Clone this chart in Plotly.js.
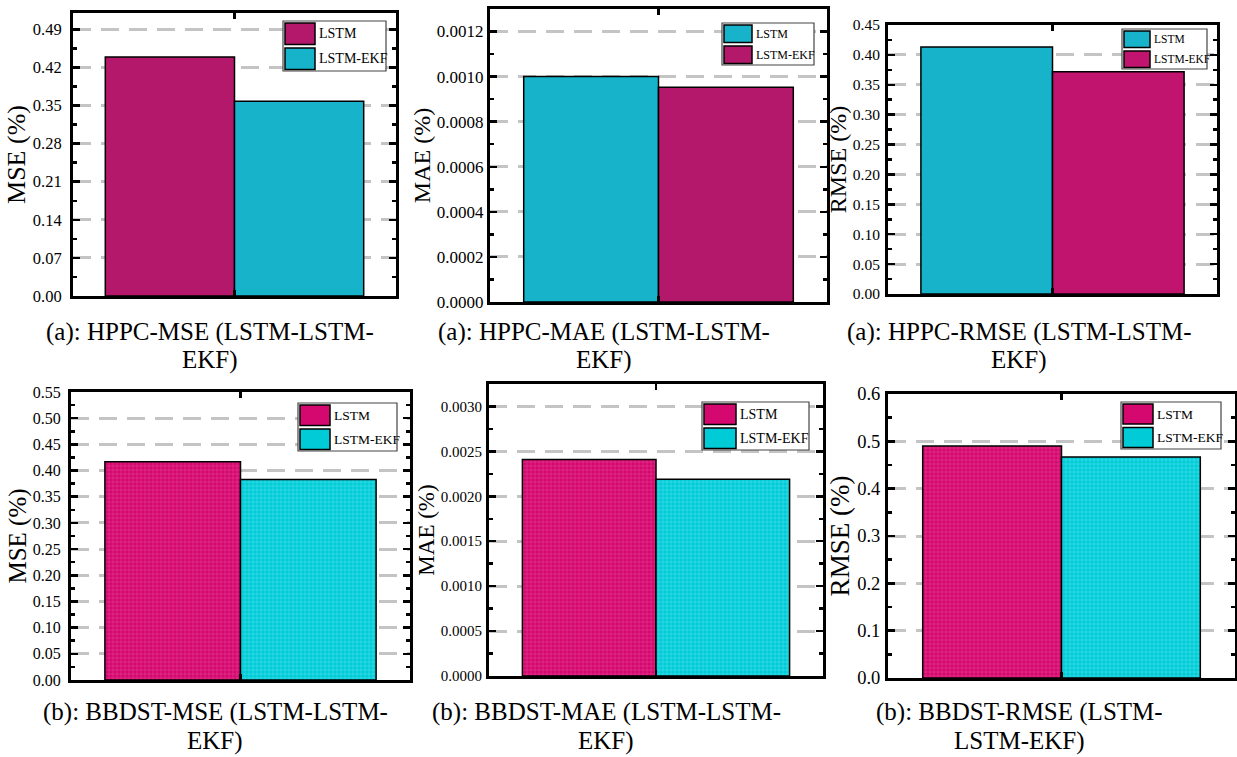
<!DOCTYPE html>
<html>
<head>
<meta charset="utf-8">
<script src="https://cdn.plot.ly/plotly-3.0.1.min.js"></script>
<style>html,body{margin:0;padding:0;background:#fff;}#chart{width:1237px;height:757px;}</style>
</head>
<body>
<div id="chart"></div>
<script>
// ---- data ----
const categories = ['LSTM', 'LSTM-EKF'];
const hppcMSE   = [0.439, 0.358];
const hppcMAE   = [0.00100, 0.000953];
const hppcRMSE  = [0.413, 0.372];
const bbdstMSE  = [0.417, 0.383];
const bbdstMAE  = [0.00241, 0.00219];
const bbdstRMSE = [0.490, 0.467];
const yTitles = ['MSE (%)', 'MAE (%)', 'RMSE (%)', 'MSE (%)', 'MAE (%)', 'RMSE (%)'];
const captionLine1 = ['(a): HPPC-MSE (LSTM-LSTM-', '(a): HPPC-MAE (LSTM-LSTM-', '(a): HPPC-RMSE (LSTM-LSTM-',
                      '(b): BBDST-MSE (LSTM-LSTM-', '(b): BBDST-MAE (LSTM-LSTM-', '(b): BBDST-RMSE (LSTM-'];
const captionLine2 = ['EKF)', 'EKF)', 'EKF)', 'EKF)', 'EKF)', 'LSTM-EKF)'];

// ---- styling / layout config ----
const W = 1237, H = 757;
const FONT = '"Times New Roman", "Liberation Serif", Times, serif';
const MAG1 = '#b3186b', CYA1 = '#17b3ca', MAG2 = '#c0146e';
const MAG3 = '#d4086f', CYA3 = '#00cbd6';
const panels = [
  {vals: hppcMSE,  colors: [MAG1, CYA1], pat: false, box: [73, 396, 13, 296],  range: [0, 0.52],    dtick: 0.07,   fmt: '.2f', tf: 16.5, titf: 26, tls: 5,
   leg: [283, 386, 21, 71, 30, 14], cap: [210, 332, 360]},
  {vals: hppcMAE,  colors: [CYA1, MAG1], pat: false, box: [490, 827, 9, 302],  range: [0, 0.0013],  dtick: 0.0002, fmt: '.4f', tf: 17, titf: 24, tls: 0,
   leg: [722, 814, 23, 65, 28, 12], cap: [604, 332, 360]},
  {vals: hppcRMSE, colors: [CYA1, MAG2], pat: false, box: [888, 1217, 25, 294], range: [0, 0.45],   dtick: 0.05,   fmt: '.2f', tf: 15.5, titf: 24, tls: 2,
   leg: [1122, 1207, 29, 69, 26, 11.5], cap: [1019, 332, 360]},
  {vals: bbdstMSE, colors: [MAG3, CYA3], pat: true,  box: [71, 410, 392, 680],  range: [0, 0.55],   dtick: 0.05,   fmt: '.2f', tf: 16, titf: 25, tls: 4,
   leg: [298, 397, 403, 451, 30, 13.5], cap: [215, 712, 741]},
  {vals: bbdstMAE, colors: [MAG3, CYA3], pat: true,  box: [489, 823, 384, 676], range: [0, 0.00325], dtick: 0.0005, fmt: '.4f', tf: 15, titf: 23, tls: 1,
   leg: [702, 809, 402, 450, 32, 14], cap: [606, 712, 741]},
  {vals: bbdstRMSE,colors: [MAG3, CYA3], pat: true,  box: [888, 1235, 394, 678], range: [0, 0.6],    dtick: 0.1,    fmt: '.1f', tf: 18.5, titf: 27, tls: 1,
   leg: [1121, 1221, 402, 449, 30, 13.5], cap: [1019, 712, 741]}
];
const lighten = {};
lighten[MAG3] = '#ec4f9c';
lighten[CYA3] = '#5de8ee';

const px = x => x / W;
const py = y => 1 - y / H;

const traces = [];
const layout = {
  width: W, height: H,
  margin: {l: 0, r: 0, t: 0, b: 0},
  paper_bgcolor: '#fff', plot_bgcolor: '#fff',
  showlegend: false,
  barmode: 'overlay',
  font: {family: FONT, color: '#000'},
  shapes: [], annotations: []
};

panels.forEach((p, i) => {
  const n = i + 1;
  const xa = 'x' + (n === 1 ? '' : n), ya = 'y' + (n === 1 ? '' : n);
  const xk = 'xaxis' + (n === 1 ? '' : n), yk = 'yaxis' + (n === 1 ? '' : n);
  categories.forEach((c, k) => {
    const marker = {color: p.colors[k], line: {color: '#000', width: 1.5}};
    if (p.pat) {
      marker.pattern = {shape: '+', size: 4, solidity: 0.2, fgcolor: lighten[p.colors[k]], bgcolor: p.colors[k], fillmode: 'replace'};
    }
    traces.push({
      type: 'bar', name: c, x: [k], y: [p.vals[k]], width: [1],
      marker: marker, xaxis: xa, yaxis: ya, showlegend: false,
      hovertemplate: c + ': %{y}<extra></extra>'
    });
  });
  layout[xk] = {
    domain: [px(p.box[0]), px(p.box[1])], anchor: ya,
    range: [-0.75, 1.75], type: 'linear',
    showgrid: false, zeroline: false,
    showline: true, linecolor: '#000', linewidth: 3, mirror: 'ticks',
    tickmode: 'array', tickvals: [0.5], ticks: 'inside', ticklen: 6, tickwidth: 2.5, tickcolor: '#000',
    showticklabels: false, fixedrange: true
  };
  layout[yk] = {
    domain: [py(p.box[3]), py(p.box[2])], anchor: xa,
    range: p.range, dtick: p.dtick, tick0: 0, tickformat: p.fmt,
    showgrid: true, gridcolor: '#c4c4c4', gridwidth: 3, griddash: '18px,10px',
    zeroline: false,
    showline: true, linecolor: '#000', linewidth: 3, mirror: 'allticks',
    ticks: 'inside', ticklen: 7, tickwidth: 2.5, tickcolor: '#000',
    minor: {dtick: p.dtick / 2, tick0: 0, ticks: 'inside', ticklen: 4, tickwidth: 2.5, tickcolor: '#000', showgrid: false},
    tickfont: {family: FONT, size: p.tf, color: '#000'},
    ticklabelstandoff: p.tls,
    title: {text: yTitles[i], font: {family: FONT, size: p.titf, color: '#000'}, standoff: 0},
    fixedrange: true
  };

  // legend box (drawn as layout shapes/annotations)
  const [lx0, lx1, ly0, ly1, sw, fs] = p.leg;
  layout.shapes.push({type: 'rect', xref: 'paper', yref: 'paper', layer: 'above',
    x0: px(lx0), x1: px(lx1), y0: py(ly1), y1: py(ly0),
    fillcolor: '#fff', line: {color: '#444', width: 1.2}});
  const rowH = (ly1 - ly0) / 2;
  categories.forEach((c, k) => {
    const top = ly0 + k * rowH + 2, bot = ly0 + (k + 1) * rowH - 1.5;
    layout.shapes.push({type: 'rect', xref: 'paper', yref: 'paper', layer: 'above',
      x0: px(lx0 + 2), x1: px(lx0 + 2 + sw), y0: py(bot), y1: py(top),
      fillcolor: p.colors[k], line: {color: '#000', width: 1.5}});
    layout.annotations.push({xref: 'paper', yref: 'paper', x: px(lx0 + sw + 4), y: py((top + bot) / 2),
      xanchor: 'left', yanchor: 'middle', showarrow: false, text: c,
      font: {family: FONT, size: fs, color: '#000'}});
  });

  // captions
  layout.annotations.push({xref: 'paper', yref: 'paper', x: px(p.cap[0]), y: py(p.cap[1]),
    xanchor: 'center', yanchor: 'middle', showarrow: false, text: captionLine1[i],
    font: {family: FONT, size: 25, color: '#000'}});
  layout.annotations.push({xref: 'paper', yref: 'paper', x: px(p.cap[0]), y: py(p.cap[2]),
    xanchor: 'center', yanchor: 'middle', showarrow: false, text: captionLine2[i],
    font: {family: FONT, size: 25, color: '#000'}});
});

Plotly.newPlot('chart', traces, layout, {displayModeBar: false, staticPlot: true});
</script>
</body>
</html>
